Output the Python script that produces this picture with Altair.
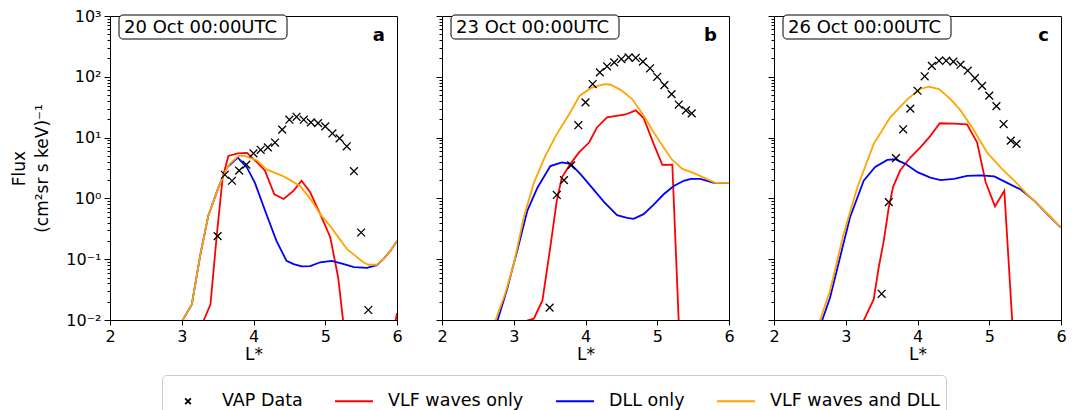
import altair as alt
import pandas as pd

# ---------------- data ----------------
panel_ids = ["a", "b", "c"]
panel_dates = ["20 Oct 00:00UTC", "23 Oct 00:00UTC", "26 Oct 00:00UTC"]
series_names = ["VAP Data", "VLF waves only", "DLL only", "VLF waves and DLL"]
series_colors = ["#000000", "#ff0000", "#0000ff", "#ffa500"]

x_ticks = [2, 3, 4, 5, 6]
y_decades = [0.01, 0.1, 1, 10, 100, 1000]
y_minor_mult = [2, 3, 4, 5, 6, 7, 8, 9]

# Panel a (20 Oct)
vap_a_L = [3.5, 3.6, 3.7, 3.8, 3.9, 4.0, 4.1, 4.2, 4.3, 4.4, 4.5, 4.6, 4.7, 4.8, 4.9, 5.0, 5.1, 5.2, 5.3, 5.4, 5.5, 5.6]
vap_a_F = [0.24, 2.45, 1.95, 2.86, 3.6, 5.5, 6.3, 6.9, 8.3, 13.5, 19.7, 22, 19.7, 17.8, 17.3, 15.3, 11.7, 9.7, 7.2, 2.8, 0.275, 0.0146]
red_a_L = [3.2, 3.30, 3.40, 3.49, 3.57, 3.65, 3.78, 3.91, 4.05, 4.16, 4.29, 4.42, 4.56, 4.67, 4.79, 4.93, 5.07, 5.18, 5.25, 5.35, 5.9, 6.0]
red_a_F = [0.004, 0.0095, 0.018, 0.26, 2.2, 5.0, 5.5, 5.6, 3.9, 2.86, 1.17, 0.98, 1.34, 1.95, 1.26, 0.55, 0.23, 0.05, 0.0095, 0.001, 0.003, 0.013]
blue_a_L = [2.9, 3.01, 3.14, 3.26, 3.37, 3.51, 3.63, 3.78, 3.91, 4.02, 4.18, 4.32, 4.46, 4.56, 4.67, 4.79, 4.93, 5.09, 5.26, 5.40, 5.58, 5.72, 5.81, 5.91, 6.0]
blue_a_F = [0.002, 0.0098, 0.018, 0.12, 0.52, 1.5, 3.2, 4.7, 3.2, 1.8, 0.55, 0.2, 0.094, 0.083, 0.076, 0.077, 0.089, 0.094, 0.083, 0.074, 0.072, 0.08, 0.1, 0.138, 0.2]
orange_a_L = [2.9, 3.01, 3.14, 3.26, 3.37, 3.51, 3.63, 3.67, 3.79, 3.88, 4.05, 4.18, 4.42, 4.65, 4.81, 4.93, 5.07, 5.30, 5.53, 5.60, 5.72, 5.81, 5.91, 6.0]
orange_a_F = [0.002, 0.0098, 0.018, 0.12, 0.52, 1.5, 3.2, 3.7, 5.0, 5.0, 4.2, 3.0, 2.3, 1.6, 0.92, 0.55, 0.35, 0.148, 0.089, 0.081, 0.081, 0.1, 0.138, 0.2]

# Panel b (23 Oct)
vap_b_L = [3.5, 3.6, 3.7, 3.8, 3.9, 4.0, 4.1, 4.2, 4.3, 4.4, 4.5, 4.6, 4.7, 4.8, 4.9, 5.0, 5.1, 5.2, 5.3, 5.4, 5.48]
vap_b_F = [0.016, 1.14, 2.0, 3.5, 16, 38, 76, 118, 149, 173, 196, 209, 204, 178, 138, 100, 73, 52, 35, 28, 25]
red_b_L = [3.1, 3.19, 3.28, 3.4, 3.51, 3.6, 3.67, 3.79, 3.91, 4.05, 4.16, 4.3, 4.56, 4.7, 4.81, 4.95, 5.07, 5.21, 5.3, 5.4, 6.0]
red_b_F = [0.005, 0.0098, 0.0105, 0.021, 0.16, 0.92, 2.2, 3.7, 5.7, 8.3, 14.7, 21.5, 24, 28, 21, 7.9, 3.55, 3.6, 0.009, 0.0005, 0.0005]
blue_b_L = [2.6, 2.77, 2.9, 3.05, 3.19, 3.33, 3.51, 3.67, 3.79, 3.93, 4.09, 4.26, 4.44, 4.58, 4.67, 4.81, 4.95, 5.09, 5.23, 5.37, 5.47, 5.6, 5.79, 6.0]
blue_b_F = [0.002, 0.0095, 0.030, 0.14, 0.63, 1.5, 3.4, 3.9, 3.7, 2.5, 1.5, 0.87, 0.53, 0.48, 0.46, 0.55, 0.79, 1.17, 1.6, 1.95, 2.1, 2.1, 1.8, 1.8]
orange_b_L = [2.6, 2.74, 2.88, 3.0, 3.14, 3.28, 3.44, 3.6, 3.77, 3.92, 4.07, 4.26, 4.35, 4.49, 4.65, 4.81, 4.95, 5.09, 5.2, 5.35, 5.51, 5.65, 5.81, 6.0]
orange_b_F = [0.002, 0.0095, 0.027, 0.083, 0.49, 1.8, 5.0, 11.4, 24, 49, 65, 76, 74, 61, 43, 23, 12.2, 6.9, 4.4, 3.05, 2.6, 2.2, 1.8, 1.8]

# Panel c (26 Oct)
vap_c_L = [3.5, 3.6, 3.7, 3.8, 3.9, 4.0, 4.1, 4.2, 4.3, 4.4, 4.5, 4.6, 4.7, 4.8, 4.9, 5.0, 5.1, 5.2, 5.3, 5.38]
vap_c_F = [0.027, 0.87, 4.6, 13.7, 30, 59, 102, 151, 184, 184, 178, 158, 126, 95, 71, 49, 33, 16.7, 8.9, 7.9]
red_c_L = [3.1, 3.25, 3.39, 3.46, 3.53, 3.6, 3.66, 3.76, 3.9, 4.04, 4.18, 4.31, 4.51, 4.69, 4.83, 4.95, 5.08, 5.21, 5.32, 5.4, 6.0]
red_c_F = [0.003, 0.0098, 0.022, 0.074, 0.2, 0.71, 1.55, 2.9, 4.7, 6.9, 10.7, 17.2, 17, 16.5, 8.4, 1.84, 0.74, 1.34, 0.0098, 0.0005, 0.0005]
blue_c_L = [2.5, 2.67, 2.78, 2.92, 3.06, 3.25, 3.41, 3.58, 3.69, 3.83, 4.0, 4.18, 4.32, 4.51, 4.69, 4.88, 5.07, 5.25, 5.44, 5.63, 5.81, 6.0]
blue_c_F = [0.002, 0.0098, 0.023, 0.107, 0.49, 1.95, 3.3, 4.3, 4.4, 3.7, 2.7, 2.2, 2.0, 2.1, 2.35, 2.4, 2.3, 1.8, 1.4, 0.91, 0.55, 0.33]
orange_c_L = [2.5, 2.64, 2.78, 2.97, 3.16, 3.39, 3.62, 3.86, 4.04, 4.16, 4.3, 4.46, 4.6, 4.79, 4.97, 5.16, 5.35, 5.53, 5.72, 5.86, 6.0]
orange_c_F = [0.002, 0.0098, 0.030, 0.26, 1.5, 7.9, 21.5, 43, 63, 69, 63, 43, 28, 13, 5.7, 3.2, 1.95, 1.17, 0.71, 0.49, 0.33]

panel_series = {
    "a": [(vap_a_L, vap_a_F), (red_a_L, red_a_F), (blue_a_L, blue_a_F), (orange_a_L, orange_a_F)],
    "b": [(vap_b_L, vap_b_F), (red_b_L, red_b_F), (blue_b_L, blue_b_F), (orange_b_L, orange_b_F)],
    "c": [(vap_c_L, vap_c_F), (red_c_L, red_c_F), (blue_c_L, blue_c_F), (orange_c_L, orange_c_F)],
}

rows = []
for p in panel_ids:
    for name, (Ls, Fs) in zip(series_names, panel_series[p]):
        for l, f in zip(Ls, Fs):
            rows.append({"panel": p, "series": name, "L": l, "F": f})
df = pd.DataFrame(rows)

# ---------------- styling ----------------
FONT = "DejaVu Sans"
PW, PH = 287, 304

y_tick_values = [d * m for d in y_decades[:-1] for m in [1] + y_minor_mult] + [y_decades[-1]]
E = "round(log(datum.value)/LN10)"
IS_POW = f"abs(log(datum.value)/LN10 - {E}) < 0.01"
SUP = (f"({E} == -2 ? '⁻²' : {E} == -1 ? '⁻¹' : {E} == 0 ? '⁰' : "
       f"{E} == 1 ? '¹' : {E} == 2 ? '²' : '³')")
LABEL_EXPR = f"{IS_POW} ? '10' + {SUP} : ''"

xpath = "M-0.15,-0.15L0.15,0.15M-0.15,0.15L0.15,-0.15"
color_scale = alt.Scale(domain=series_names, range=series_colors)
shape_scale = alt.Scale(domain=series_names, range=[xpath, "stroke", "stroke", "stroke"])

legend = alt.Legend(
    title=None, orient="none", legendX=52, legendY=359, direction="horizontal", columns=4,
    labelFont=FONT, labelFontSize=17.5, labelColor="black", labelOffset=14, labelLimit=400,
    symbolSize=1444, symbolStrokeWidth=1.8, columnPadding=28,
    strokeColor="#cccccc", fillColor="white", padding=6, cornerRadius=4,
)


def make_panel(i):
    p = panel_ids[i]
    first = i == 0
    y_axis = alt.Axis(
        values=y_tick_values, labelExpr=LABEL_EXPR, labels=first, labelOverlap=False,
        labelFlush=False, labelFontSize=16, labelPadding=3,
        title=["Flux", "(cm²sr s keV)⁻¹"] if first else None, titlePadding=14,
        titleLineHeight=23,
        tickSize={"condition": {"test": IS_POW, "value": 6}, "value": 3},
        tickWidth=1, grid=False,
    )
    x_axis = alt.Axis(values=x_ticks, format="d", title="L*", labelFlush=False,
                      labelFontSize=16, tickSize=5, labelPadding=3, titlePadding=2, grid=False)
    xenc = alt.X("L:Q", scale=alt.Scale(domain=[2, 6], nice=False), axis=x_axis)
    yenc = alt.Y("F:Q", scale=alt.Scale(type="log", domain=[0.01, 1000], nice=False), axis=y_axis)

    pdf = df[df.panel == p]
    layers = []
    for name, col in zip(series_names[1:], series_colors[1:]):
        layers.append(
            alt.Chart(pdf[pdf.series == name]).mark_line(clip=True, strokeWidth=1.8, color=col)
            .encode(x=xenc, y=yenc)
        )
    pts = alt.Chart(pdf[pdf.series == series_names[0]]).mark_point(
        filled=False, size=2700, strokeWidth=1.3, clip=True, opacity=1
    ).encode(
        x=xenc, y=yenc,
        color=alt.Color("series:N", scale=color_scale, legend=legend),
        shape=alt.Shape("series:N", scale=shape_scale, legend=legend),
    )
    layers.append(pts)

    ann = pd.DataFrame({"date": [panel_dates[i]], "letter": [p]})
    box = alt.Chart(ann).mark_rect(fill="white", stroke="black", strokeWidth=1, cornerRadius=4).encode(
        x=alt.value(9), x2=alt.value(177), y=alt.value(-1), y2=alt.value(23)
    )
    date_txt = alt.Chart(ann).mark_text(font=FONT, fontSize=18, align="left", baseline="alphabetic",
                                        color="black").encode(
        x=alt.value(14), y=alt.value(16.5), text="date:N"
    )
    letter_txt = alt.Chart(ann).mark_text(font=FONT, fontSize=18, fontWeight="bold", align="right",
                                          baseline="alphabetic", color="black").encode(
        x=alt.value(PW - 12), y=alt.value(25), text="letter:N"
    )
    layers += [box, date_txt, letter_txt]
    return alt.layer(*layers).properties(width=PW, height=PH)


chart = alt.hconcat(*[make_panel(i) for i in range(3)], spacing=45, bounds="flush").resolve_scale(
    color="shared", shape="shared"
).properties(
    padding={"left": 2, "top": -1, "right": 5, "bottom": 0}
).configure_view(
    stroke="black", strokeWidth=1
).configure_axis(
    labelFont=FONT, titleFont=FONT, labelColor="black", titleColor="black",
    titleFontSize=17, titleFontWeight="normal", domainColor="black", tickColor="black",
    domainWidth=1,
)

chart.save("out.html", embed_options={"renderer": "svg", "actions": False})
